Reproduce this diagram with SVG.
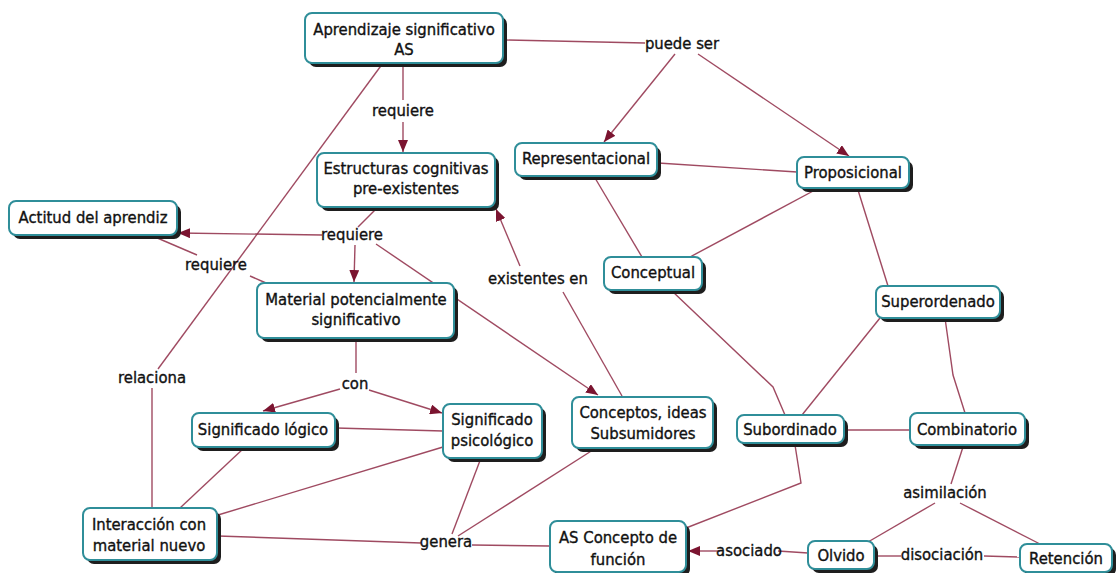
<svg xmlns="http://www.w3.org/2000/svg" width="1117" height="573" viewBox="0 0 1117 573">
<style>
.bg{fill:#ffffff}
.box{fill:#ffffff;stroke:#2f8e99;stroke-width:2}
.sh{fill:#1e1e1e}
.t{font-family:"DejaVu Sans Condensed","DejaVu Sans",sans-serif;font-stretch:condensed;font-size:16.5px;fill:#111;stroke:#111;stroke-width:0.35;text-anchor:middle}
.c path{fill:none;stroke:#8e2a45;stroke-width:1.4;stroke-opacity:0.85}
</style>
<defs>
<marker id="ar" markerUnits="userSpaceOnUse" markerWidth="13" markerHeight="10" refX="12" refY="5" orient="auto">
<path d="M0,0 L12,5 L0,10 z" fill="#7b1430"/>
</marker>
</defs>
<rect class="bg" x="0" y="0" width="1117" height="573"/>
<g id="connectors" class="c">
<path d="M505,40 L645,43"/>
<path d="M675,54 L604,142" marker-end="url(#ar)"/>
<path d="M698,54 L849,156" marker-end="url(#ar)"/>
<path d="M403,63 L403,100"/>
<path d="M403,122 L403,152" marker-end="url(#ar)"/>
<path d="M383,63 L158,369"/>
<path d="M152,388 L152,508"/>
<path d="M377,208 L358,227"/>
<path d="M322,235 L178,233" marker-end="url(#ar)"/>
<path d="M355,245 L354,282" marker-end="url(#ar)"/>
<path d="M376,244 L598,395" marker-end="url(#ar)"/>
<path d="M155,237 L197,255"/>
<path d="M250,276 L266,283"/>
<path d="M622,396 L563,292"/>
<path d="M520,266 L496,209" marker-end="url(#ar)"/>
<path d="M356,339 L356,373"/>
<path d="M340,389 L263,411" marker-end="url(#ar)"/>
<path d="M369,390 L442,413" marker-end="url(#ar)"/>
<path d="M336,428 L443,431"/>
<path d="M244,448 L180,508"/>
<path d="M443,447 L218,515"/>
<path d="M481,458 L452,534"/>
<path d="M596,448 L458,536"/>
<path d="M218,536 L421,543"/>
<path d="M472,545 L550,546"/>
<path d="M658,163 L797,172"/>
<path d="M595,178 L642,257"/>
<path d="M815,190 L690,257"/>
<path d="M858,190 L888,286"/>
<path d="M672,291 L773,387 L785,415"/>
<path d="M880,318 L802,415"/>
<path d="M945,318 L953,375 L965,413"/>
<path d="M844,430 L910,430"/>
<path d="M795,445 L801,483 L686,528"/>
<path d="M963,447 L951,484"/>
<path d="M935,503 L868,542"/>
<path d="M960,503 L1040,544"/>
<path d="M808,553 L778,551"/>
<path d="M720,551 L688,551" marker-end="url(#ar)"/>
<path d="M874,556 L901,556"/>
<path d="M984,556 L1020,557"/>
</g>
<g id="labels">
<text class="t" x="682" y="49">puede ser</text>
<text class="t" x="403" y="116">requiere</text>
<text class="t" x="352" y="240">requiere</text>
<text class="t" x="216" y="270">requiere</text>
<text class="t" x="538" y="284">existentes en</text>
<text class="t" x="152" y="383">relaciona</text>
<text class="t" x="355" y="389">con</text>
<text class="t" x="446" y="547">genera</text>
<text class="t" x="749" y="556">asociado</text>
<text class="t" x="942" y="560">disociación</text>
<text class="t" x="945" y="498">asimilación</text>
</g>
<g id="n-aprendizaje"><rect class="sh" x="309" y="17" width="198" height="50" rx="7"/><rect class="box" x="305" y="13" width="198" height="50" rx="7"/><text class="t" x="404" y="35">Aprendizaje significativo</text><text class="t" x="404" y="55">AS</text></g>
<g id="n-estructuras"><rect class="sh" x="321" y="157" width="178" height="54" rx="7"/><rect class="box" x="317" y="153" width="178" height="54" rx="7"/><text class="t" x="406" y="174">Estructuras cognitivas</text><text class="t" x="406" y="194">pre-existentes</text></g>
<g id="n-actitud"><rect class="sh" x="13" y="205" width="168" height="34" rx="7"/><rect class="box" x="9" y="201" width="168" height="34" rx="7"/><text class="t" x="93" y="223">Actitud del aprendiz</text></g>
<g id="n-material"><rect class="sh" x="261" y="287" width="197" height="55" rx="7"/><rect class="box" x="257" y="283" width="197" height="55" rx="7"/><text class="t" x="356" y="305">Material potencialmente</text><text class="t" x="356" y="325">significativo</text></g>
<g id="n-logico"><rect class="sh" x="196" y="417" width="143" height="34" rx="7"/><rect class="box" x="192" y="413" width="143" height="34" rx="7"/><text class="t" x="263" y="435">Significado lógico</text></g>
<g id="n-psicologico"><rect class="sh" x="447" y="408" width="99" height="54" rx="7"/><rect class="box" x="443" y="404" width="99" height="54" rx="7"/><text class="t" x="492" y="425">Significado</text><text class="t" x="492" y="446">psicológico</text></g>
<g id="n-interaccion"><rect class="sh" x="87" y="512" width="134" height="52" rx="7"/><rect class="box" x="83" y="508" width="134" height="52" rx="7"/><text class="t" x="149" y="530">Interacción con</text><text class="t" x="149" y="551">material nuevo</text></g>
<g id="n-asconcepto"><rect class="sh" x="554" y="525" width="136" height="51" rx="7"/><rect class="box" x="550" y="521" width="136" height="51" rx="7"/><text class="t" x="618" y="543">AS Concepto de</text><text class="t" x="618" y="565">función</text></g>
<g id="n-conceptos"><rect class="sh" x="576" y="401" width="141" height="51" rx="7"/><rect class="box" x="572" y="397" width="141" height="51" rx="7"/><text class="t" x="643" y="418">Conceptos, ideas</text><text class="t" x="643" y="439">Subsumidores</text></g>
<g id="n-subordinado"><rect class="sh" x="741" y="419" width="107" height="28" rx="7"/><rect class="box" x="737" y="415" width="107" height="28" rx="7"/><text class="t" x="790" y="435">Subordinado</text></g>
<g id="n-combinatorio"><rect class="sh" x="914" y="417" width="115" height="32" rx="7"/><rect class="box" x="910" y="413" width="115" height="32" rx="7"/><text class="t" x="967" y="435">Combinatorio</text></g>
<g id="n-olvido"><rect class="sh" x="812" y="545" width="66" height="28" rx="7"/><rect class="box" x="808" y="541" width="66" height="28" rx="7"/><text class="t" x="841" y="561">Olvido</text></g>
<g id="n-retencion"><rect class="sh" x="1024" y="548" width="92" height="28" rx="7"/><rect class="box" x="1020" y="544" width="92" height="28" rx="7"/><text class="t" x="1066" y="564">Retención</text></g>
<g id="n-representacional"><rect class="sh" x="519" y="147" width="142" height="33" rx="7"/><rect class="box" x="515" y="143" width="142" height="33" rx="7"/><text class="t" x="586" y="164">Representacional</text></g>
<g id="n-proposicional"><rect class="sh" x="801" y="161" width="112" height="31" rx="7"/><rect class="box" x="797" y="157" width="112" height="31" rx="7"/><text class="t" x="853" y="178">Proposicional</text></g>
<g id="n-conceptual"><rect class="sh" x="608" y="261" width="98" height="33" rx="7"/><rect class="box" x="604" y="257" width="98" height="33" rx="7"/><text class="t" x="653" y="278">Conceptual</text></g>
<g id="n-superordenado"><rect class="sh" x="880" y="290" width="124" height="32" rx="7"/><rect class="box" x="876" y="286" width="124" height="32" rx="7"/><text class="t" x="938" y="307">Superordenado</text></g>
</svg>
